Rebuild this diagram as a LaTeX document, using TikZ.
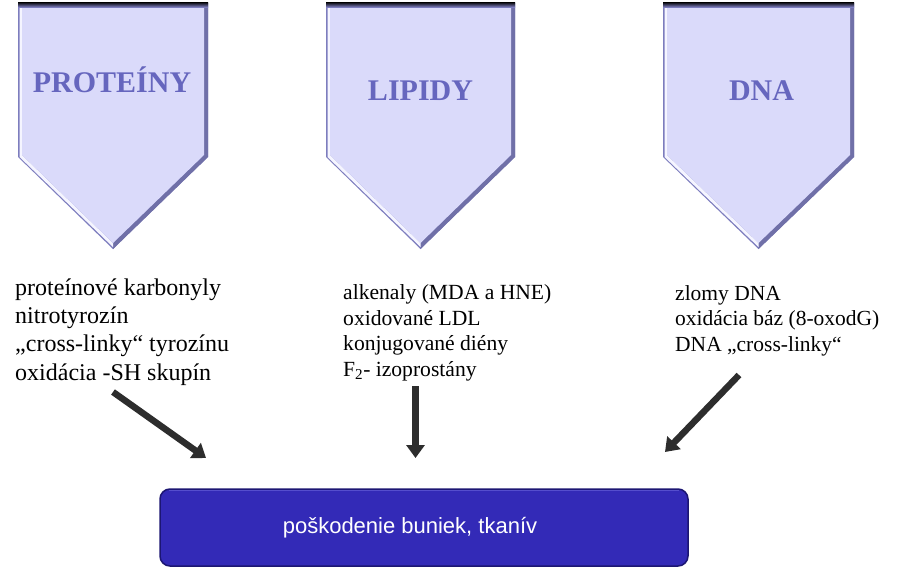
\documentclass[tikz,border=0pt]{standalone}
\usepackage{fontspec}
\setmainfont{Liberation Serif}
\newfontfamily\boxfont{Liberation Sans}
\usetikzlibrary{arrows.meta}
\definecolor{pface}{RGB}{218,218,250}
\definecolor{pedge}{RGB}{125,125,190}
\definecolor{pdark}{RGB}{112,112,168}
\definecolor{phigh}{RGB}{245,245,255}
\definecolor{headc}{RGB}{102,102,190}
\definecolor{boxfill}{RGB}{51,42,183}
\definecolor{boxedge}{RGB}{28,22,115}
\definecolor{boxhigh}{RGB}{85,78,205}
\definecolor{arrowc}{RGB}{45,45,45}
\tikzset{
  listtext/.style={anchor=base west, align=left, inner sep=0pt},
  headtext/.style={anchor=base, font=\fontsize{30}{36}\selectfont\bfseries, text=headc, inner sep=0pt},
  bigarrow/.style={line width=6.5pt, draw=arrowc, -{Triangle[length=13pt,width=18pt]}},
  mainbox/.style={minimum width=528pt, minimum height=77pt, rounded corners=10pt, fill=boxfill,
    draw=boxedge, line width=1.5pt, text=white, font=\boxfont\fontsize{22}{26}\selectfont, inner sep=0pt}
}
\newcommand\mypent[2]{%
  \pgfmathsetmacro\mypc{(#1+#2)/2}
  \fill[pedge] (#1,3) -- (#2,3) -- (#2,157) -- (\mypc,249) -- (#1,157) -- cycle;
  \fill[pdark] (#2,3) -- (#2,157) -- (\mypc,249) -- (\mypc,243) -- (#2-4,155) -- (#2-4,7) -- cycle;
  \fill[phigh] (#1+1.5,4) -- (#1+4,7) -- (#1+4,155) -- (\mypc,243) -- (\mypc,247) -- (#1+1.5,157) -- cycle;
  \fill[pface] (#1+4,7) -- (#2-4,7) -- (#2-4,155) -- (\mypc,243) -- (#1+4,155) -- cycle;
  \shade[top color=black, bottom color=pedge] (#1,2) rectangle (#2,7);
}
\begin{document}
\begin{tikzpicture}[x=1pt,y=-1pt]
\useasboundingbox[fill=white] (0,0) rectangle (899,570);

\mypent{18}{208}
\mypent{326}{515}
\mypent{663}{854}

\node[headtext] (hp) at (112,92) {PROTEÍNY};
\node[headtext] (hl) at (420.5,100) {LIPIDY};
\node[headtext] (hd) at (761.5,100) {DNA};

\node[listtext, font=\fontsize{24}{28.3}\selectfont] (lp) at (15,380)
  {proteínové karbonyly\\nitrotyrozín\\„cross-linky“ tyrozínu\\oxidácia -SH skupín};
\node[listtext, font=\fontsize{21.6}{25.5}\selectfont] (ll) at (343,376)
  {alkenaly (MDA a HNE)\\oxidované LDL\\konjugované diény\\F\textsubscript{2}- izoprostány};
\node[listtext, font=\fontsize{21.5}{25.5}\selectfont] (ld) at (675,351)
  {zlomy DNA\\oxidácia báz (8-oxodG)\\DNA „cross-linky“};

\node[mainbox] (res) at (424,527.5) {poškodenie buniek, tkanív\hspace*{28pt}};
\draw[boxhigh, line width=1pt] ([xshift=10pt,yshift=-2pt]res.north west) -- ([xshift=-10pt,yshift=-2pt]res.north east);

\coordinate (a1s) at (113,392);
\coordinate (a1e) at (206,458);
\coordinate (a2s) at (415.5,386);
\coordinate (a2e) at (415.5,458);
\coordinate (a3s) at (739,375);
\coordinate (a3e) at (665,452);
\draw[bigarrow] (a1s) -- (a1e);
\draw[bigarrow] (a2s) -- (a2e);
\draw[bigarrow] (a3s) -- (a3e);
\end{tikzpicture}
\end{document}
